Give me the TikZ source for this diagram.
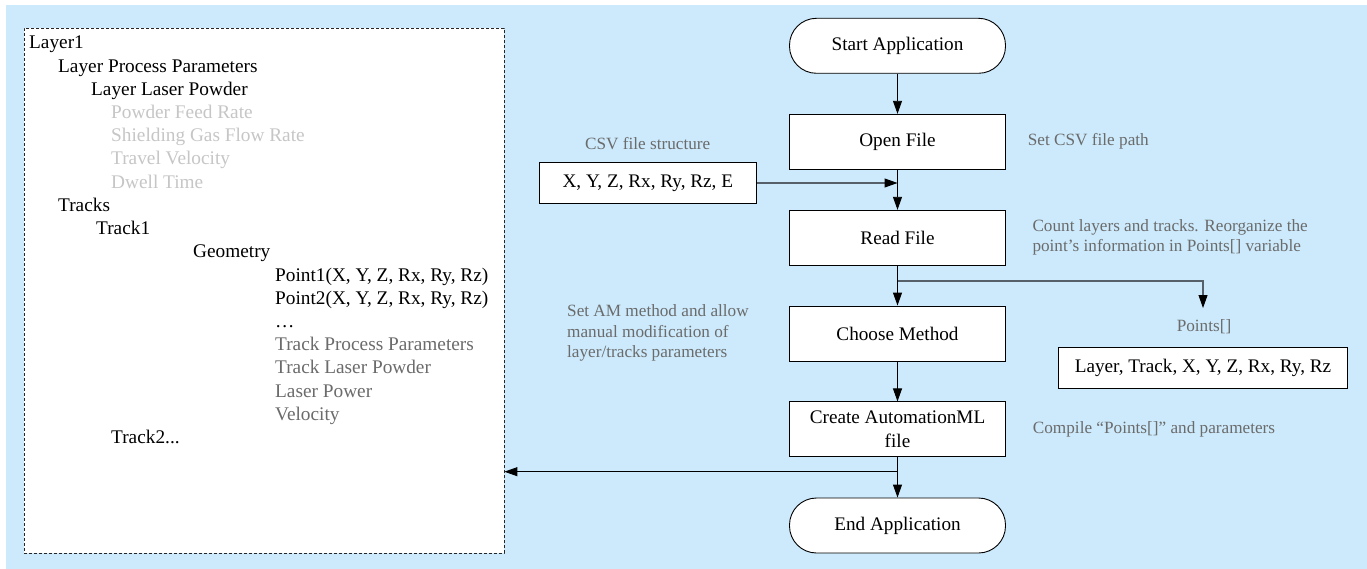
\documentclass[tikz,border=0pt]{standalone}
\usepackage{fontspec}
\setmainfont{Liberation Serif}
\usepackage{xcolor}
\usepackage{tikz}
\usetikzlibrary{arrows.meta,positioning,calc}
\definecolor{amlsky}{HTML}{CCEAFC}
\definecolor{amlink}{HTML}{000000}
\definecolor{amlgrey}{HTML}{6B6B6B}
\definecolor{amlpale}{HTML}{C6C6C6}
\definecolor{amlwire}{HTML}{55606A}

\tikzset{
  stepbox/.style={draw=black, fill=white, line width=0.9pt, minimum width=216pt, minimum height=55pt, inner sep=2pt, align=center, font=\fontsize{19.2}{23.5}\selectfont},
  termbox/.style={stepbox, rounded corners=27pt},
  databox/.style={draw=black, fill=white, line width=0.9pt, minimum height=41pt, font=\fontsize{19.2}{23}\selectfont},
  caption/.style={text=amlgrey, inner sep=0pt, font=\fontsize{17.2}{20.5}\selectfont},
  note/.style={caption, anchor=west, align=left},
  treeline/.style={anchor=base west, inner sep=0pt, font=\fontsize{19.3}{23}\selectfont},
  flow/.style={-{Triangle[length=13pt,width=9pt,color=black]}, line width=0.9pt, draw=black},
  wire/.style={flow, draw=amlwire, line width=1.1pt},
}

\begin{document}
\begin{tikzpicture}[x=1pt,y=-1pt]
  \useasboundingbox (0,0) rectangle (1367,569);
  \fill[amlsky] (6,5) rectangle (1367,569);

  % layer tree
  \node[draw=black!85, fill=white, dash pattern=on 3pt off 2pt, line width=0.8pt, minimum width=480pt, minimum height=525pt, inner sep=0pt] (tree) at (264,290.5) {};
  \foreach \x/\c/\t [count=\i] in {29/amlink/Layer1, 58/amlink/Layer Process Parameters, 91/amlink/Layer Laser Powder,
      111/amlpale/Powder Feed Rate, 111/amlpale/Shielding Gas Flow Rate, 111/amlpale/Travel Velocity, 111/amlpale/Dwell Time,
      58/amlink/Tracks, 96/amlink/Track1, 193/amlink/Geometry,
      275/amlink/{Point1(X, Y, Z, Rx, Ry, Rz)}, 275/amlink/{Point2(X, Y, Z, Rx, Ry, Rz)}, 275/amlink/…,
      275/amlgrey/Track Process Parameters, 275/amlgrey/Track Laser Powder, 275/amlgrey/Laser Power, 275/amlgrey/Velocity}
    \node[treeline, text=\c] (row\i) at (\x,{49+23.2*(\i-1)}) {\t};
  \node[treeline, text=amlink] (row18) at (111,443.4) {Track2...};

  % main flow
  \node[termbox] (start) at (897.5,45.8) {Start Application};
  \node[stepbox] (open) at (897.5,141.8) {Open File};
  \node[stepbox] (read) at (897.5,237.8) {Read File};
  \node[stepbox] (choose) at (897.5,333.5) {Choose Method};
  \node[stepbox] (create) at (897.5,429.4) {Create AutomationML\\file};
  \node[termbox] (end) at (897.5,525.5) {End Application};

  \draw[flow] (start) -- (open);
  \draw[flow] (open) -- (read);
  \draw[flow] (read) -- (choose);
  \draw[flow] (choose) -- (create);
  \draw[flow] (create) -- (end);

  % side data
  \node[databox, minimum width=217pt] (csv) at (647.8,183) {X, Y, Z, Rx, Ry, Rz, E};
  \node[caption] (csvlabel) at (647.7,144) {CSV file structure};
  \node[databox, minimum width=289pt] (points) at (1203,367.8) {Layer, Track, X, Y, Z, Rx, Ry, Rz};
  \node[caption] (pointslabel) at (1204,326.7) {Points[]};

  \coordinate (split) at (897.5,281);
  \coordinate (ptop) at (1203,308);
  \coordinate (join) at (897.5,471.7);
  \draw[wire] (csv.east) -- (csv -| open);
  \draw[wire, -] (split) -| ($(ptop)+(0,-12)$);
  \draw[flow] ($(ptop)+(0,-13)$) -- (ptop);
  \draw[flow] (join) -- (join -| tree.east);

  % notes
  \node[note] (n1) at (1027.7,141.7) {Set CSV file path};
  \node[note] (n2) at (1032.3,237.5) {Count layers and tracks. Reorganize the\\point’s information in Points[] variable};
  \node[note] (n3) at (567,333.2) {Set AM method and allow\\manual modification of\\layer/tracks parameters};
  \node[note] (n4) at (1032.7,429.7) {Compile “Points[]” and parameters};
\end{tikzpicture}
\end{document}
